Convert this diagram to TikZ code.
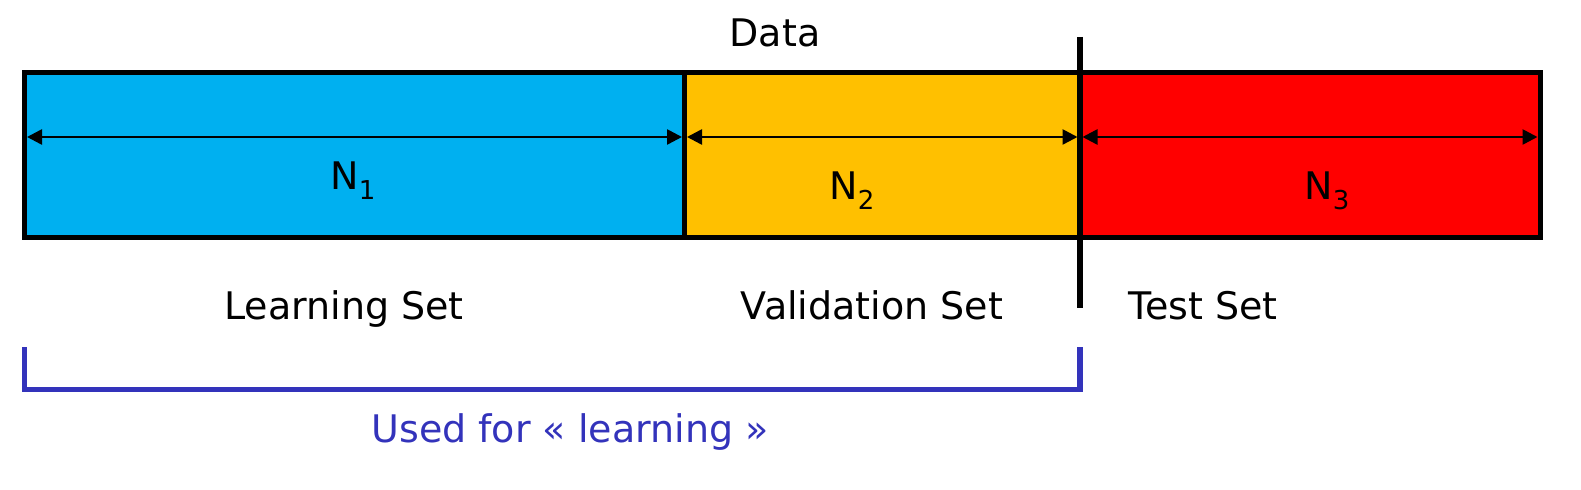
\documentclass[tikz,border=0pt]{standalone}
\usepackage{fontspec}
\setmainfont{DejaVu Sans}
\usetikzlibrary{arrows.meta}
\definecolor{cblue}{HTML}{00B0F0}
\definecolor{cyellow}{HTML}{FFC000}
\definecolor{cred}{HTML}{FF0000}
\definecolor{cbrack}{RGB}{51,51,187}
\newcommand{\Nsub}[1]{N\raisebox{-5pt}{\fontsize{13}{13}\selectfont #1}}
\tikzset{
  part/.style={draw=black, line width=2.5pt, outer sep=0pt, inner sep=0pt, minimum height=82.5pt},
  dim/.style={line width=1.3pt, {Triangle[length=7.5pt,width=7.5pt]}-{Triangle[length=7.5pt,width=7.5pt]}, shorten <=1.25pt, shorten >=1.25pt},
  lbl/.style={inner sep=0pt, anchor=base, font=\fontsize{19}{23}\selectfont},
  sublbl/.style={inner sep=0pt, anchor=base west, font=\fontsize{19}{23}\selectfont},
  cut/.style={line width=3pt},
  bracket/.style={draw=cbrack, line width=2.8pt, line cap=rect}
}
\begin{document}
\begin{tikzpicture}[x=0.5pt,y=-0.5pt]
\useasboundingbox (0,0) rectangle (1581,490);
% parts
\node[part, fill=cblue, minimum width=330pt] (learn) at (354.5,155) {};
\node[part, fill=cyellow, minimum width=197.75pt] (valid) at (882.25,155) {};
\node[part, fill=cred, minimum width=230pt] (test) at (1310,155) {};
% dimension arrows
\draw[dim] ([yshift=9pt]learn.west) -- ([yshift=9pt]learn.east);
\draw[dim] ([yshift=9pt]valid.west) -- ([yshift=9pt]valid.east);
\draw[dim] ([yshift=9pt]test.west) -- ([yshift=9pt]test.east);
% cut line
\draw[cut] ([yshift=17.75pt]valid.north east) -- ([yshift=-35.25pt]valid.south east);
% labels
\node[lbl] (data) at (775,47) {Data};
\node[sublbl] (n1) at (330,190) {\Nsub{1}};
\node[sublbl] (n2) at (829,200) {\Nsub{2}};
\node[sublbl] (n3) at (1304,200) {\Nsub{3}};
\node[lbl] (ls) at (344,320) {Learning Set};
\node[lbl] (vs) at (872,320) {Validation Set};
\node[lbl] (ts) at (1203,320) {Test Set};
% bracket
\draw[bracket] ([yshift=-56.25pt]learn.south west) |- ([yshift=-76pt]valid.south east) -- ([yshift=-56.25pt]valid.south east);
\node[lbl, text=cbrack] (used) at (570,443) {Used for « learning »};
\end{tikzpicture}
\end{document}
